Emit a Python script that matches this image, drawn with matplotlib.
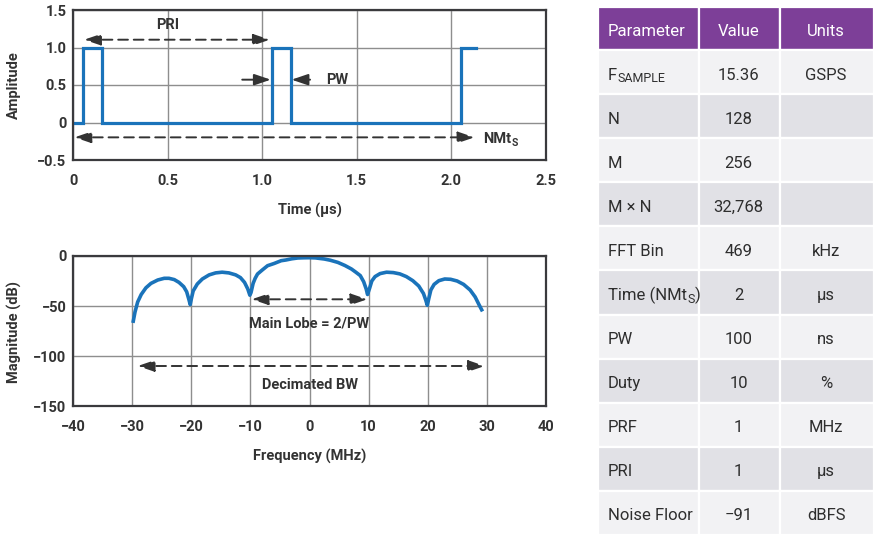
import matplotlib
matplotlib.use('Agg')
import matplotlib.pyplot as plt
from matplotlib.patches import Rectangle

# ---------------- data ----------------
time_us = [0.0, 0.05, 0.05, 0.15, 0.15, 1.05, 1.05, 1.15, 1.15, 2.05, 2.05, 2.13]
amplitude = [0.0, 0.0, 1.0, 1.0, 0.0, 0.0, 0.99, 0.99, 0.0, 0.0, 1.0, 1.0]

freq_mhz = [-29.9, -29.55, -29.1, -28.5, -27.7, -26.85, -25.7, -24.6, -23.8, -22.9,
            -22.1, -21.3, -20.8, -20.4, -20.2, -20.0, -19.7, -19.0, -18.15, -17.0,
            -15.9, -14.8, -13.65, -12.5, -11.7, -11.0, -10.45, -10.1, -9.9, -9.55,
            -9.2, -8.8, -8.0, -7.1, -6.0, -4.8, -4.0, -3.0, -2.0, -1.0, 0.0,
            1.0, 2.5, 3.5, 4.8, 6.0, 7.1, 7.8, 8.6, 9.17, 9.6, 9.83,
            10.17, 10.55, 11.1, 11.95, 13.05, 14.2, 15.3, 16.4, 17.5, 18.5,
            19.3, 19.7, 19.95, 20.2, 20.55, 21.1, 21.9, 22.9, 23.9, 25.0,
            26.1, 27.2, 28.05, 28.7, 29.3]
mag_db = [-66.9, -56.0, -46.0, -38.5, -31.8, -27.4, -24.0, -22.3, -22.3, -23.6,
          -26.4, -30.7, -35.8, -44.0, -48.6, -42.6, -35.0, -28.0, -23.0, -18.9,
          -16.9, -16.2, -16.9, -18.9, -21.6, -26.4, -33.0, -39.2, -36.5, -27.4,
          -22.3, -18.0, -14.0, -9.7, -7.5, -4.7, -4.0, -2.8, -2.0, -1.8, -1.7,
          -1.9, -3.0, -4.2, -6.4, -9.5, -13.0, -16.0, -19.6, -25.7, -33.0, -38.5,
          -32.4, -25.0, -20.6, -17.6, -16.2, -16.6, -17.9, -20.6, -24.7, -30.0,
          -37.5, -44.3, -49.3, -42.6, -34.0, -28.4, -24.7, -23.0, -23.3, -25.0,
          -28.4, -34.0, -40.9, -48.6, -55.4]

time_ticks = [0, 0.5, 1.0, 1.5, 2.0, 2.5]
time_ticklabels = ['0', '0.5', '1.0', '1.5', '2.0', '2.5']
amp_ticks = [-0.5, 0, 0.5, 1.0, 1.5]
amp_ticklabels = ['\u22120.5', '0', '0.5', '1.0', '1.5']
freq_ticks = [-40, -30, -20, -10, 0, 10, 20, 30, 40]
freq_ticklabels = ['\u221240', '\u221230', '\u221220', '\u221210', '0', '10', '20', '30', '40']
mag_ticks = [-150, -100, -50, 0]
mag_ticklabels = ['\u2212150', '\u2212100', '\u221250', '0']

table_header = ['Parameter', 'Value', 'Units']
table_params = ['F', 'N', 'M', 'M \u00d7 N', 'FFT Bin', 'Time (NMt', 'PW', 'Duty', 'PRF', 'PRI', 'Noise Floor']
table_param_sub = ['SAMPLE', '', '', '', '', 'S', '', '', '', '', '']
table_param_tail = ['', '', '', '', '', ')', '', '', '', '', '']
table_values = ['15.36', '128', '256', '32,768', '469', '2', '100', '10', '1', '1', '\u221291']
table_units = ['GSPS', '', '', '', 'kHz', '\u03bcs', 'ns', '%', 'MHz', '\u03bcs', 'dBFS']

# ---------------- style ----------------
W, H = 879, 537
BLUE = '#1a73ba'
DARK = '#333333'
GRID = '#8e8e8e'
SPINE = '#3a3a3d'
CHART_FONT = ['Roboto', 'DejaVu Sans']
TABLE_FONT = ['Roboto', 'DejaVu Sans']

plt.rcParams['font.family'] = CHART_FONT
fig = plt.figure(figsize=(W / 100, H / 100), dpi=100)
fig.patch.set_facecolor('white')


def px_axes(left, top, right, bottom):
    return fig.add_axes([left / W, 1 - bottom / H, (right - left) / W, (bottom - top) / H])


def style_axes(ax):
    ax.grid(True, color=GRID, lw=1.0)
    ax.set_axisbelow(True)
    for s in ax.spines.values():
        s.set_color(SPINE)
        s.set_linewidth(1.6)
    ax.tick_params(length=0, labelsize=10.5, labelcolor=DARK)
    for lab in ax.get_xticklabels() + ax.get_yticklabels():
        lab.set_fontweight('bold')


def darrow(ax, x0, x1, y):
    ax.annotate('', xy=(x1, y), xytext=(x0, y),
                arrowprops=dict(arrowstyle='<|-|>,head_length=1.0,head_width=0.34',
                                color=DARK, lw=1.4, linestyle=(0, (5, 3)),
                                shrinkA=0, shrinkB=0))


def sarrow(ax, x0, x1, y):
    ax.annotate('', xy=(x1, y), xytext=(x0, y),
                arrowprops=dict(arrowstyle='-|>,head_length=1.0,head_width=0.34',
                                color=DARK, lw=1.4, shrinkA=0, shrinkB=0))


# ---------------- top chart ----------------
ax1 = px_axes(73.3, 10, 545.7, 160)
ax1.plot(time_us, amplitude, color=BLUE, lw=2.3, solid_joinstyle='miter')
ax1.set_xlim(0, 2.5)
ax1.set_ylim(-0.5, 1.5)
ax1.set_xticks(time_ticks, time_ticklabels)
ax1.set_yticks(amp_ticks, amp_ticklabels)
ax1.tick_params(axis='x', pad=10)
ax1.tick_params(axis='y', pad=5)
style_axes(ax1)

darrow(ax1, 0.057, 1.04, 1.104)
ax1.text(0.497, 1.30, 'PRI', ha='center', va='center', fontsize=10.5, fontweight='bold', color=DARK)
sarrow(ax1, 0.894, 1.045, 0.571)
sarrow(ax1, 1.253, 1.155, 0.571)
ax1.text(1.338, 0.571, 'PW', ha='left', va='center', fontsize=10.5, fontweight='bold', color=DARK)
darrow(ax1, 0.006, 2.123, -0.198)
t_nm = ax1.text(2.17, -0.215, 'NMt', ha='left', va='center', fontsize=10.5, fontweight='bold', color=DARK)
ax1.annotate('S', xy=(1, 0), xycoords=t_nm, xytext=(0.3, -1.5), textcoords='offset points',
             ha='left', va='bottom', fontsize=7.5, fontweight='bold', color=DARK)

fig.text(14.4 / W, 1 - 85 / H, 'Amplitude', rotation=90, ha='center', va='center',
         fontsize=10.5, fontweight='bold', color=DARK)
fig.text(310 / W, 1 - 210 / H, 'Time (\u03bcs)', ha='center', va='center',
         fontsize=10.5, fontweight='bold', color=DARK)

# ---------------- bottom chart ----------------
ax2 = px_axes(73.3, 256, 545.7, 406)
ax2.plot(freq_mhz, mag_db, color=BLUE, lw=2.6, solid_joinstyle='round', solid_capstyle='butt')
ax2.set_xlim(-40, 40)
ax2.set_ylim(-150, 0)
ax2.set_xticks(freq_ticks, freq_ticklabels)
ax2.set_yticks(mag_ticks, mag_ticklabels)
ax2.tick_params(axis='x', pad=10)
ax2.tick_params(axis='y', pad=5)
style_axes(ax2)

darrow(ax2, -9.8, 9.8, -43.3)
ax2.text(0, -67.7, 'Main Lobe = 2/PW', ha='center', va='center', fontsize=10.5,
         fontweight='bold', color=DARK)
darrow(ax2, -29.1, 29.7, -110)
ax2.text(0, -129, 'Decimated BW', ha='center', va='center', fontsize=10.5,
         fontweight='bold', color=DARK)

fig.text(14.4 / W, 1 - 331.7 / H, 'Magnitude (dB)', rotation=90, ha='center', va='center',
         fontsize=10.5, fontweight='bold', color=DARK)
fig.text(310 / W, 1 - 456.7 / H, 'Frequency (MHz)', ha='center', va='center',
         fontsize=10.5, fontweight='bold', color=DARK)

# ---------------- table ----------------
tx0, tx1, ty0, ty1 = 598, 874, 7, 535
axt = px_axes(tx0, ty0, tx1, ty1)
axt.set_xlim(tx0, tx1)
axt.set_ylim(ty1, ty0)
axt.axis('off')

col_edges = [598, 699, 780, 874]
header_h = 43
row_h = (ty1 - ty0 - header_h) / len(table_params)
PURPLE = '#7d3f98'
LIGHT = '#f2f2f4'
GRAY = '#e1e1e6'
TXT = '#2e2e2e'
fs_t = 12

for c in range(3):
    axt.add_patch(Rectangle((col_edges[c], ty0), col_edges[c + 1] - col_edges[c], header_h,
                            facecolor=PURPLE, edgecolor='white', lw=1.6))
text_x = [608, 738.5, 826]
aligns = ['left', 'center', 'center']
for c, h in enumerate(table_header):
    axt.text(text_x[c], ty0 + header_h / 2 + 3, h, ha=aligns[c], va='center',
             fontsize=fs_t, color='white', family=TABLE_FONT)

for r in range(len(table_params)):
    top = ty0 + header_h + r * row_h
    fc = LIGHT if r % 2 == 0 else GRAY
    for c in range(3):
        axt.add_patch(Rectangle((col_edges[c], top), col_edges[c + 1] - col_edges[c], row_h,
                                facecolor=fc, edgecolor='white', lw=1.6))
    yc = top + row_h / 2 + 3
    tp = axt.text(text_x[0], yc, table_params[r], ha='left', va='center', fontsize=fs_t,
                  color=TXT, family=TABLE_FONT)
    if table_param_sub[r]:
        ts = axt.annotate(table_param_sub[r], xy=(1, 0), xycoords=tp, xytext=(0.2, -1.5),
                          textcoords='offset points', ha='left', va='bottom',
                          fontsize=fs_t * 0.75, color=TXT, family=TABLE_FONT)
        if table_param_tail[r]:
            axt.annotate(table_param_tail[r], xy=(1, 0), xycoords=ts, xytext=(0.3, 1.5),
                         textcoords='offset points', ha='left', va='bottom',
                         fontsize=fs_t, color=TXT, family=TABLE_FONT)
    axt.text(text_x[1], yc, table_values[r], ha='center', va='center', fontsize=fs_t,
             color=TXT, family=TABLE_FONT)
    if table_units[r]:
        axt.text(text_x[2], yc, table_units[r], ha='center', va='center', fontsize=fs_t,
                 color=TXT, family=TABLE_FONT)

fig.savefig('out.png', dpi=100, facecolor='white')
